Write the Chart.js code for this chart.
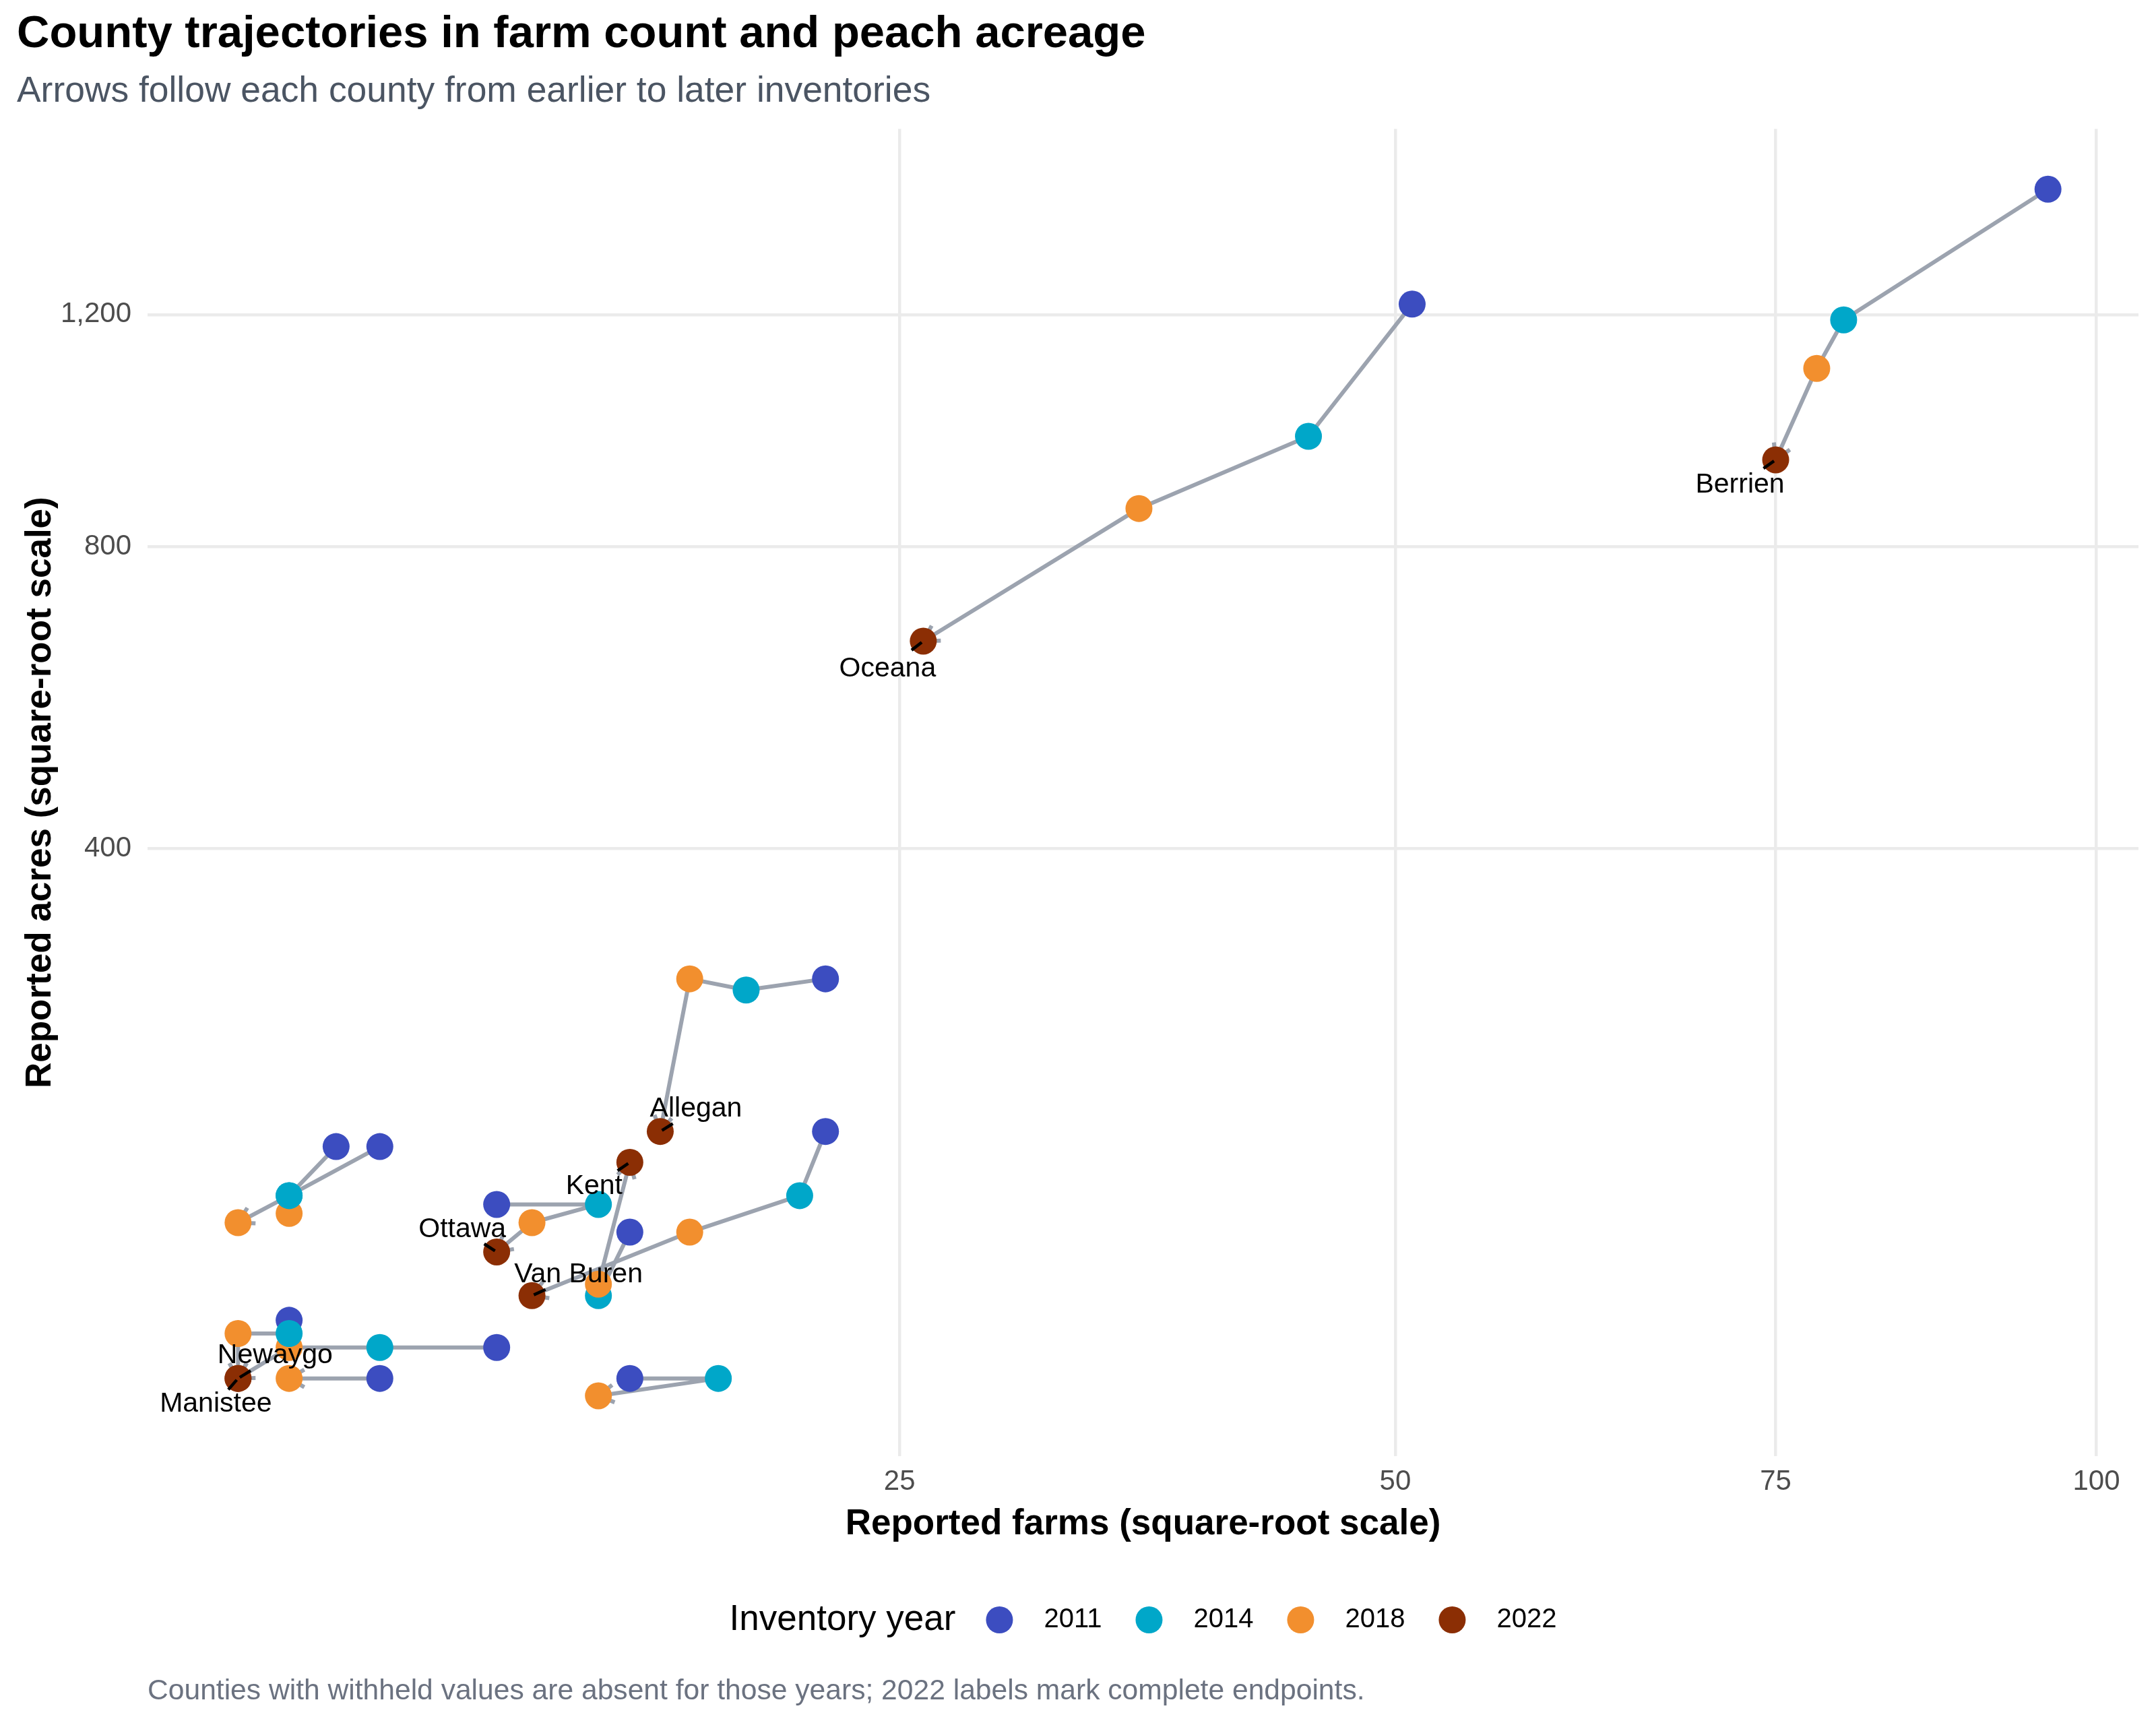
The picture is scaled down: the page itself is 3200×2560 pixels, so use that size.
<!DOCTYPE html>
<html>
<head>
<meta charset="utf-8">
<script src="https://cdn.jsdelivr.net/npm/chart.js@4.4.1/dist/chart.umd.min.js"></script>
<style>
  html, body { margin: 0; padding: 0; background: #ffffff; }
  canvas { display: block; }
</style>
</head>
<body>
<canvas id="trajectoryChart" width="3200" height="2560" style="width:3200px;height:2560px"></canvas>
<script>
// inventory years and their colours
const YEARS = [2011, 2014, 2018, 2022];
const YEAR_COLORS = ['#3C4DC0', '#00A7C9', '#F28F2E', '#8B2E04'];

// counties, in drawing order (later ones sit on top)
const COUNTIES = ['Allegan', 'Berrien', 'Cass', 'Kalamazoo', 'Kent', 'Manistee',
                  'Mason', 'Muskegon', 'Newaygo', 'Oceana', 'Ottawa', 'Van Buren'];

// reported farms / acres per inventory, null = withheld
const FARMS_2011 = [22, 96, 15, 8, 15, 11, 8, 7, 6, 51, 11, 22];
const ACRES_2011 = [270, 1450, 30, 140, 90, 40, 30, 140, 50, 1220, 105, 150];
const FARMS_2014 = [19, 80, 18, 6, 14, 8, null, 6, 6, 45, 14, 21];
const ACRES_2014 = [260, 1190, 30, 110, 60, 40, null, 110, 45, 980, 105, 110];
const FARMS_2018 = [17, 78, 14, 6, 14, 6, 6, 5, 5, 36, 12, 17];
const ACRES_2018 = [270, 1100, 25, 100, 65, 40, 30, 95, 45, 860, 95, 90];
const FARMS_2022 = [16, 75, null, null, 15, 5, null, null, 5, 26, 11, 12];
const ACRES_2022 = [150, 940, null, null, 130, 30, null, null, 30, 660, 80, 60];

const X_TICKS = [25, 50, 75, 100];
const Y_TICKS = [400, 800, 1200];

// where each 2022 label sits relative to its point (px), null = no label
const LABEL_OFFSETS = [[53, -33], [-53, 37], null, null, [-53, 36], [-33, 38],
                       null, null, [55, -34], [-53, 41], [-51, -33], [69, -31]];

const FARMS = [FARMS_2011, FARMS_2014, FARMS_2018, FARMS_2022];
const ACRES = [ACRES_2011, ACRES_2014, ACRES_2018, ACRES_2022];

const FONT = "'Liberation Sans', Arial, Helvetica, sans-serif";
const PATH_GREY = '#9CA3AF';

// square-root axis built on the linear one
class SqrtScale extends Chart.LinearScale {
    getPixelForValue(value) {
        if (value === null || isNaN(value)) return NaN;
        const a = Math.sqrt(this.min), b = Math.sqrt(this.max);
        return this.getPixelForDecimal((Math.sqrt(value) - a) / (b - a));
    }
    getValueForPixel(pixel) {
        const a = Math.sqrt(this.min), b = Math.sqrt(this.max);
        const d = this.getDecimalForPixel(pixel);
        return Math.pow(a + d * (b - a), 2);
    }
}
SqrtScale.id = 'sqrt';
SqrtScale.defaults = Chart.LinearScale.defaults;
Chart.register(SqrtScale);

// 5% expansion in sqrt space, like ggplot
const sqrtLimits = (rows) => {
    const s = [].concat(...rows).filter(v => v !== null).map(Math.sqrt);
    const lo = Math.min(...s), hi = Math.max(...s), pad = (hi - lo) * 0.05;
    return [Math.pow(lo - pad, 2), Math.pow(hi + pad, 2)];
};
const [xMin, xMax] = sqrtLimits(FARMS);
const [yMin, yMax] = sqrtLimits(ACRES);

const pathSets = [];
const pointSets = [];
COUNTIES.forEach((county, c) => {
    const pts = [], cols = [];
    YEARS.forEach((year, y) => {
        if (FARMS[y][c] !== null && ACRES[y][c] !== null) {
            pts.push({ x: FARMS[y][c], y: ACRES[y][c] });
            cols.push(YEAR_COLORS[y]);
        }
    });
    pathSets.push({
        label: county + ' path',
        data: pts,
        showLine: true,
        borderColor: PATH_GREY,
        borderWidth: 6,
        borderJoinStyle: 'round',
        borderCapStyle: 'butt',
        pointRadius: 0,
        pointHoverRadius: 0,
        tension: 0,
        order: 100,
        isPath: true
    });
    pointSets.push({
        label: county,
        data: pts,
        showLine: false,
        pointRadius: 20,
        pointHoverRadius: 20,
        pointBorderWidth: 0,
        pointBackgroundColor: cols,
        pointBorderColor: cols,
        order: 50 - c,
        countyIndex: c
    });
});

// open arrowhead at the end of each county path, under the points
const arrowPlugin = {
    id: 'arrowHeads',
    afterDatasetDraw(chart, args) {
        const ds = chart.data.datasets[args.index];
        if (!ds.isPath || args.meta.data.length < 2) return;
        const els = args.meta.data;
        const tip = els[els.length - 1], prev = els[els.length - 2];
        const ang = Math.atan2(tip.y - prev.y, tip.x - prev.x);
        const len = 26, spread = Math.PI / 6;
        const ctx = chart.ctx;
        ctx.save();
        ctx.strokeStyle = PATH_GREY;
        ctx.lineWidth = 6;
        ctx.lineCap = 'butt';
        ctx.lineJoin = 'miter';
        ctx.beginPath();
        ctx.moveTo(tip.x - len * Math.cos(ang - spread), tip.y - len * Math.sin(ang - spread));
        ctx.lineTo(tip.x, tip.y);
        ctx.lineTo(tip.x - len * Math.cos(ang + spread), tip.y - len * Math.sin(ang + spread));
        ctx.stroke();
        ctx.restore();
    }
};

// 2022 endpoint labels with short leader segments
const labelPlugin = {
    id: 'endLabels',
    afterDatasetsDraw(chart) {
        const ctx = chart.ctx;
        ctx.save();
        chart.data.datasets.forEach((ds, i) => {
            if (ds.countyIndex === undefined) return;
            const c = ds.countyIndex;
            const off = LABEL_OFFSETS[c];
            if (!off || FARMS_2022[c] === null) return;
            const els = chart.getDatasetMeta(i).data;
            const p = els[els.length - 1];
            const d = Math.hypot(off[0], off[1]);
            const ux = off[0] / d, uy = off[1] / d;
            ctx.strokeStyle = '#000000';
            ctx.lineWidth = 4.5;
            ctx.beginPath();
            ctx.moveTo(p.x + ux * 3, p.y + uy * 3);
            ctx.lineTo(p.x + ux * 22, p.y + uy * 22);
            ctx.stroke();
        });
        chart.data.datasets.forEach((ds, i) => {
            if (ds.countyIndex === undefined) return;
            const c = ds.countyIndex;
            const off = LABEL_OFFSETS[c];
            if (!off || FARMS_2022[c] === null) return;
            const els = chart.getDatasetMeta(i).data;
            const p = els[els.length - 1];
            ctx.fillStyle = '#000000';
            ctx.font = '41px ' + FONT;
            ctx.textAlign = 'center';
            ctx.textBaseline = 'middle';
            ctx.fillText(COUNTIES[c], p.x + off[0], p.y + off[1]);
        });
        ctx.restore();
    }
};

// legend row and caption below the axis
const footerPlugin = {
    id: 'legendAndCaption',
    afterDraw(chart) {
        const ctx = chart.ctx;
        const area = chart.chartArea;
        const legendY = 2404;
        ctx.save();
        ctx.textBaseline = 'middle';
        ctx.textAlign = 'left';
        ctx.font = '53px ' + FONT;
        const titleText = 'Inventory year';
        const titleW = ctx.measureText(titleText).width;
        ctx.font = '40px ' + FONT;
        const labW = YEARS.map(y => ctx.measureText(String(y)).width);
        const total = titleW + 65 + labW.reduce((s, w) => s + 66 + w, 0) + 70 * (YEARS.length - 1);
        let x = (area.left + area.right) / 2 - total / 2;
        ctx.fillStyle = '#000000';
        ctx.font = '53px ' + FONT;
        ctx.fillText(titleText, x, legendY);
        x += titleW + 65;
        YEARS.forEach((year, i) => {
            ctx.fillStyle = YEAR_COLORS[i];
            ctx.beginPath();
            ctx.arc(x, legendY, 20, 0, Math.PI * 2);
            ctx.fill();
            ctx.fillStyle = '#000000';
            ctx.font = '40px ' + FONT;
            ctx.fillText(String(year), x + 66, legendY);
            x += 66 + labW[i] + 70;
        });
        ctx.fillStyle = '#6B7280';
        ctx.font = '42.6px ' + FONT;
        ctx.fillText('Counties with withheld values are absent for those years; 2022 labels mark complete endpoints.', area.left, 2510);
        ctx.restore();
    }
};

Chart.defaults.font.family = FONT;

const ctx = document.getElementById('trajectoryChart').getContext('2d');
const chart = new Chart(ctx, {
    type: 'scatter',
    data: { datasets: pointSets.concat(pathSets) },
    plugins: [arrowPlugin, labelPlugin, footerPlugin],
    options: {
        responsive: false,
        animation: false,
        devicePixelRatio: 1,
        events: [],
        layout: { padding: { top: 0, left: 25, right: 26, bottom: 259 } },
        plugins: {
            legend: { display: false },
            tooltip: { enabled: false },
            title: {
                display: true,
                text: 'County trajectories in farm count and peach acreage',
                align: 'start',
                color: '#000000',
                font: { size: 67, weight: 'bold', lineHeight: 1.2 },
                padding: { top: 11.4, bottom: 0 }
            },
            subtitle: {
                display: true,
                text: 'Arrows follow each county from earlier to later inventories',
                align: 'start',
                color: '#4B5563',
                font: { size: 53.4, lineHeight: 1.2 },
                padding: { top: 12.2, bottom: 23.2 }
            }
        },
        scales: {
            x: {
                type: 'sqrt',
                position: 'bottom',
                min: xMin,
                max: xMax,
                bounds: 'data',
                afterBuildTicks: (s) => { s.ticks = X_TICKS.map(v => ({ value: v })); },
                afterFit: (s) => { s.height = 140; },
                grid: { color: '#EBEBEB', lineWidth: 4.5, drawTicks: false },
                border: { display: false },
                ticks: {
                    color: '#4D4D4D',
                    font: { size: 42, lineHeight: 1.2 },
                    padding: 13,
                    maxRotation: 0,
                    callback: (v) => v.toLocaleString('en-US')
                },
                title: {
                    display: true,
                    text: 'Reported farms (square-root scale)',
                    color: '#000000',
                    font: { size: 53, weight: 'bold', lineHeight: 1.2 },
                    padding: { top: 0, bottom: 7 }
                }
            },
            y: {
                type: 'sqrt',
                position: 'left',
                min: yMin,
                max: yMax,
                bounds: 'data',
                afterBuildTicks: (s) => { s.ticks = Y_TICKS.map(v => ({ value: v })); },
                afterFit: (s) => { s.width = 194; },
                grid: { color: '#EBEBEB', lineWidth: 4.5, drawTicks: false },
                border: { display: false },
                ticks: {
                    color: '#4D4D4D',
                    font: { size: 42, lineHeight: 1.2 },
                    padding: 24,
                    callback: (v) => v.toLocaleString('en-US')
                },
                title: {
                    display: true,
                    text: 'Reported acres (square-root scale)',
                    color: '#000000',
                    font: { size: 53, weight: 'bold', lineHeight: 1.2 },
                    padding: { top: 4, bottom: 0 }
                }
            }
        }
    }
});
</script>
</body>
</html>
